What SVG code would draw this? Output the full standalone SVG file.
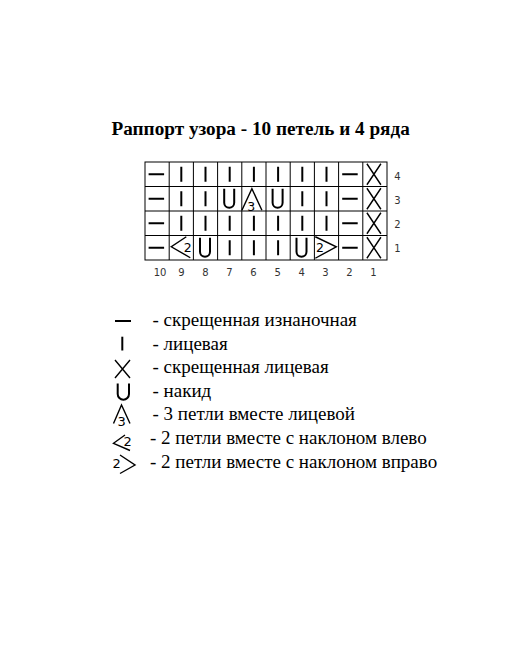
<svg xmlns="http://www.w3.org/2000/svg" xmlns:xlink="http://www.w3.org/1999/xlink" width="525" height="657" viewBox="0 0 525 657">
<style>
.sym{fill:none;stroke:#000;stroke-width:2;stroke-linecap:butt}
.thin{fill:none;stroke:#000;stroke-width:1.4}
.grid{fill:none;stroke:#000;stroke-width:1}
.num{font-family:"DejaVu Sans",sans-serif;font-size:10px;fill:#333;text-anchor:middle}
.small{font-family:"DejaVu Sans",sans-serif;font-size:12.5px;fill:#000;text-anchor:middle}
.lsmall{font-family:"DejaVu Sans",sans-serif;font-size:13px;fill:#000;text-anchor:middle}
.leg{font-family:"Liberation Serif",serif;font-size:19px;fill:#000}
.title{font-family:"Liberation Serif",serif;font-size:19.2px;font-weight:bold;fill:#000}
</style>
<defs>
<g id="s-dash"><line class="sym" x1="-8.5" y1="0" x2="7" y2="0"/></g>
<g id="s-i"><line class="sym" x1="0" y1="-7.5" x2="0" y2="7.5"/></g>
<g id="s-x"><path class="thin" d="M-8,-10.5 L6,10.5 M6,-10.5 L-8,10.5"/></g>
<g id="s-u"><path class="sym" d="M-5,-10 V4 A5,5 0 0 0 5,4 V-10"/></g>
<g id="s-a3"><path class="thin" d="M-12,11.5 L-2,-10 L8,11.5"/><text class="small" x="-2.8" y="12.2">3</text></g>
<g id="s-l2"><path class="thin" d="M5,-11 L-10,-1 L9,10"/><text class="small" x="6.4" y="3.8">2</text></g>
<g id="s-r2"><path class="thin" d="M-11,-11 L10,-1 L-11,10.5"/><text class="small" x="-6.3" y="3.8">2</text></g>
</defs>
<rect width="525" height="657" fill="#fff"/>
<text class="title" x="111.5" y="134.5">Раппорт узора - 10 петель и 4 ряда</text>
<g id="grid">
<rect class="grid" x="145" y="162" width="242" height="98"/>
<path class="grid" d="M169.2,162V260M193.4,162V260M217.6,162V260M241.8,162V260M266,162V260M290.2,162V260M314.4,162V260M338.6,162V260M362.8,162V260M145,186.5H387M145,211H387M145,235.5H387"/>
</g>
<g id="row4">
<use href="#s-dash" x="157.1" y="174.25"/>
<use href="#s-i" x="181.3" y="174.25"/>
<use href="#s-i" x="205.5" y="174.25"/>
<use href="#s-i" x="229.7" y="174.25"/>
<use href="#s-i" x="253.9" y="174.25"/>
<use href="#s-i" x="278.1" y="174.25"/>
<use href="#s-i" x="302.3" y="174.25"/>
<use href="#s-i" x="326.5" y="174.25"/>
<use href="#s-dash" x="350.7" y="174.25"/>
<use href="#s-x" x="374.9" y="174.25"/>
</g>
<g id="row3">
<use href="#s-dash" x="157.1" y="198.75"/>
<use href="#s-i" x="181.3" y="198.75"/>
<use href="#s-i" x="205.5" y="198.75"/>
<use href="#s-u" x="229.2" y="198.75"/>
<use href="#s-a3" x="253.9" y="198.75"/>
<use href="#s-u" x="277.6" y="198.75"/>
<use href="#s-i" x="302.3" y="198.75"/>
<use href="#s-i" x="326.5" y="198.75"/>
<use href="#s-dash" x="350.7" y="198.75"/>
<use href="#s-x" x="374.9" y="198.75"/>
</g>
<g id="row2">
<use href="#s-dash" x="157.1" y="223.25"/>
<use href="#s-i" x="181.3" y="223.25"/>
<use href="#s-i" x="205.5" y="223.25"/>
<use href="#s-i" x="229.7" y="223.25"/>
<use href="#s-i" x="253.9" y="223.25"/>
<use href="#s-i" x="278.1" y="223.25"/>
<use href="#s-i" x="302.3" y="223.25"/>
<use href="#s-i" x="326.5" y="223.25"/>
<use href="#s-dash" x="350.7" y="223.25"/>
<use href="#s-x" x="374.9" y="223.25"/>
</g>
<g id="row1">
<use href="#s-dash" x="157.1" y="247.75"/>
<use href="#s-l2" x="181.3" y="247.75"/>
<use href="#s-u" x="205" y="247.75"/>
<use href="#s-i" x="229.7" y="247.75"/>
<use href="#s-i" x="253.9" y="247.75"/>
<use href="#s-i" x="278.1" y="247.75"/>
<use href="#s-u" x="301.5" y="247.75"/>
<use href="#s-r2" x="326.3" y="247.75"/>
<use href="#s-dash" x="350.7" y="247.75"/>
<use href="#s-x" x="374.9" y="247.75"/>
</g>
<g id="col-numbers">
<text class="num" x="160" y="276">10</text>
<text class="num" x="181.5" y="276">9</text>
<text class="num" x="205.5" y="276">8</text>
<text class="num" x="229.5" y="276">7</text>
<text class="num" x="253.5" y="276">6</text>
<text class="num" x="277.8" y="276">5</text>
<text class="num" x="301.8" y="276">4</text>
<text class="num" x="325.5" y="276">3</text>
<text class="num" x="349.5" y="276">2</text>
<text class="num" x="373.5" y="276">1</text>
</g>
<g id="row-numbers">
<text class="num" x="397.5" y="179.5">4</text>
<text class="num" x="397.5" y="203.5">3</text>
<text class="num" x="397.5" y="228">2</text>
<text class="num" x="397.5" y="252">1</text>
</g>
<g id="legend">
<g id="leg-dash"><line class="sym" x1="115" y1="321" x2="131" y2="321"/><text class="leg" x="152.5" y="325.7">- скрещенная изнаночная</text></g>
<g id="leg-i"><line class="sym" x1="122.3" y1="336.7" x2="122.3" y2="350.5"/><text class="leg" x="152.5" y="350">- лицевая</text></g>
<g id="leg-x"><path class="thin" d="M115,360 L130,378 M130,360 L115,378"/><text class="leg" x="152.5" y="373.3">- скрещенная лицевая</text></g>
<g id="leg-u"><path class="sym" d="M117.7,383.5 V394 A5.65,5.65 0 0 0 129,394 V383.5"/><text class="leg" x="152.5" y="396.7">- накид</text></g>
<g id="leg-a3"><path class="thin" d="M113.5,423.5 L121.5,405 L130,423.5"/><text class="lsmall" x="121.7" y="425.5">3</text><text class="leg" x="152.5" y="420">- 3 петли вместе лицевой</text></g>
<g id="leg-l2"><path class="thin" d="M125,435 L113.5,443.3 L130,450.5"/><text class="lsmall" x="127.7" y="446.4">2</text><text class="leg" x="150" y="444.3">- 2 петли вместе с наклоном влево</text></g>
<g id="leg-r2"><path class="thin" d="M120,455 L135,465 L120,473.5"/><text class="lsmall" x="116.7" y="468">2</text><text class="leg" x="150" y="468.3">- 2 петли вместе с наклоном вправо</text></g>
</g>
</svg>
